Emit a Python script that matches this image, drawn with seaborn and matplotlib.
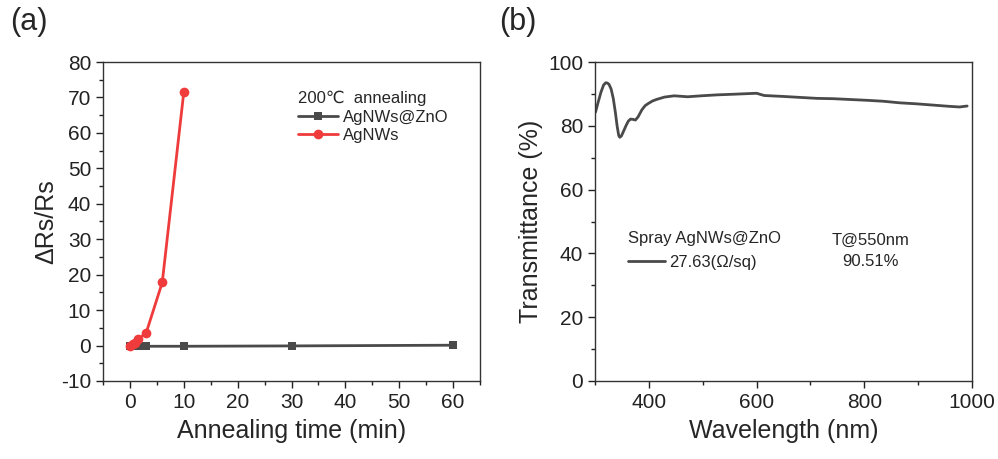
import numpy as np
import pandas as pd
import matplotlib
matplotlib.use("Agg")
import matplotlib.pyplot as plt
import seaborn as sns
from matplotlib.ticker import MultipleLocator

# ---- data (a) ----
time_zno = [0, 0.5, 1, 1.5, 3, 10, 30, 60]
drs_zno = [0.0, -0.1, -0.2, -0.2, -0.2, -0.2, -0.1, 0.1]
time_ag = [0, 0.5, 1, 1.5, 3, 6, 10]
drs_ag = [0.0, 0.3, 0.8, 1.8, 3.5, 17.8, 71.5]
label_zno = "AgNWs@ZnO"
label_ag = "AgNWs"
legend_title_a = "200\u2103  annealing"

# ---- data (b) ----
wavelength = [301, 306, 311, 316, 320, 323, 326, 330, 334, 338, 341, 344, 346, 349, 353,
              358, 362, 366, 371, 375, 380, 387, 393, 399, 407, 415, 429, 447, 472, 497,
              527, 558, 600, 614, 650, 681, 712, 742, 804, 835, 866, 896, 927, 958, 977, 991]
transmittance = [84.3, 87.5, 90.5, 92.8, 93.5, 93.4, 93.0, 91.5, 88.5, 84.0, 80.0, 77.0,
                 76.4, 76.8, 78.3, 80.2, 81.5, 82.1, 82.0, 81.8, 82.8, 85.0, 86.3, 87.0,
                 87.8, 88.3, 89.0, 89.4, 89.1, 89.4, 89.7, 89.9, 90.2, 89.5, 89.2, 88.9,
                 88.6, 88.5, 88.0, 87.7, 87.2, 86.9, 86.5, 86.1, 85.9, 86.2]

sns.set_style("ticks")
plt.rcParams['font.family'] = ['Liberation Sans', 'DejaVu Sans']
plt.rcParams['axes.unicode_minus'] = False

GREY = "#4a4a4a"
RED = "#ef3b3b"

fig = plt.figure(figsize=(9.98, 4.59), dpi=100)
ax1 = fig.add_axes([103/998, 1-381/459, 377/998, 319/459])
ax2 = fig.add_axes([595/998, 1-381/459, 377/998, 319/459])

df_zno = pd.DataFrame({"t": time_zno, "v": drs_zno})
df_ag = pd.DataFrame({"t": time_ag, "v": drs_ag})
sns.lineplot(data=df_zno, x="t", y="v", ax=ax1, color=GREY, marker="s", markersize=6,
             markeredgewidth=0, linewidth=2.0, label=label_zno)
sns.lineplot(data=df_ag, x="t", y="v", ax=ax1, color=RED, marker="o", markersize=7,
             markeredgewidth=0, linewidth=2.0, label=label_ag)

ax1.set_xlim(-5, 65)
ax1.set_ylim(-10, 80)
ax1.xaxis.set_major_locator(MultipleLocator(10))
ax1.xaxis.set_minor_locator(MultipleLocator(5))
ax1.yaxis.set_major_locator(MultipleLocator(10))
ax1.yaxis.set_minor_locator(MultipleLocator(5))
ax1.set_xlabel("Annealing time (min)", fontsize=18, labelpad=5)
ax1.set_ylabel("\u0394Rs/Rs", fontsize=18, labelpad=2)
leg = ax1.legend(title=legend_title_a, frameon=False, fontsize=12, title_fontsize=12,
                 loc="upper left", bbox_to_anchor=(0.5, 0.93), alignment="left",
                 handlelength=2.4, handletextpad=0.3, labelspacing=0.2, borderaxespad=0)

df_t = pd.DataFrame({"w": wavelength, "T": transmittance})
sns.lineplot(data=df_t, x="w", y="T", ax=ax2, color=GREY, linewidth=2.0,
             label="27.63(\u03a9/sq)")
ax2.set_xlim(300, 1000)
ax2.set_ylim(0, 100)
ax2.xaxis.set_major_locator(MultipleLocator(200))
ax2.xaxis.set_minor_locator(MultipleLocator(100))
ax2.yaxis.set_major_locator(MultipleLocator(20))
ax2.yaxis.set_minor_locator(MultipleLocator(10))
ax2.set_xlabel("Wavelength (nm)", fontsize=18, labelpad=5)
ax2.set_ylabel("Transmittance (%)", fontsize=18, labelpad=4)
ax2.legend(title="Spray AgNWs@ZnO", frameon=False, fontsize=12, title_fontsize=12,
           loc="upper left", bbox_to_anchor=(0.07, 0.49), alignment="left",
           handlelength=2.2, handletextpad=0.25, borderaxespad=0)
ax2.text(0.73, 0.44, "T@550nm", transform=ax2.transAxes, fontsize=12, ha="center", va="center")
ax2.text(0.73, 0.375, "90.51%", transform=ax2.transAxes, fontsize=12, ha="center", va="center")

for ax in (ax1, ax2):
    for s in ax.spines.values():
        s.set_visible(True)
        s.set_linewidth(1.0)
        s.set_color("#333333")
    ax.tick_params(which="major", direction="out", length=5, width=1, labelsize=15, colors="#222222")
    ax.tick_params(which="minor", direction="out", length=3, width=1, colors="#222222")
    ax.tick_params(top=False, right=False, which="both")

fig.text(10/998, 1-22/459, "(a)", fontsize=22, va="center", ha="left")
fig.text(499/998, 1-22/459, "(b)", fontsize=22, va="center", ha="left")

fig.savefig("out.png", dpi=100)
